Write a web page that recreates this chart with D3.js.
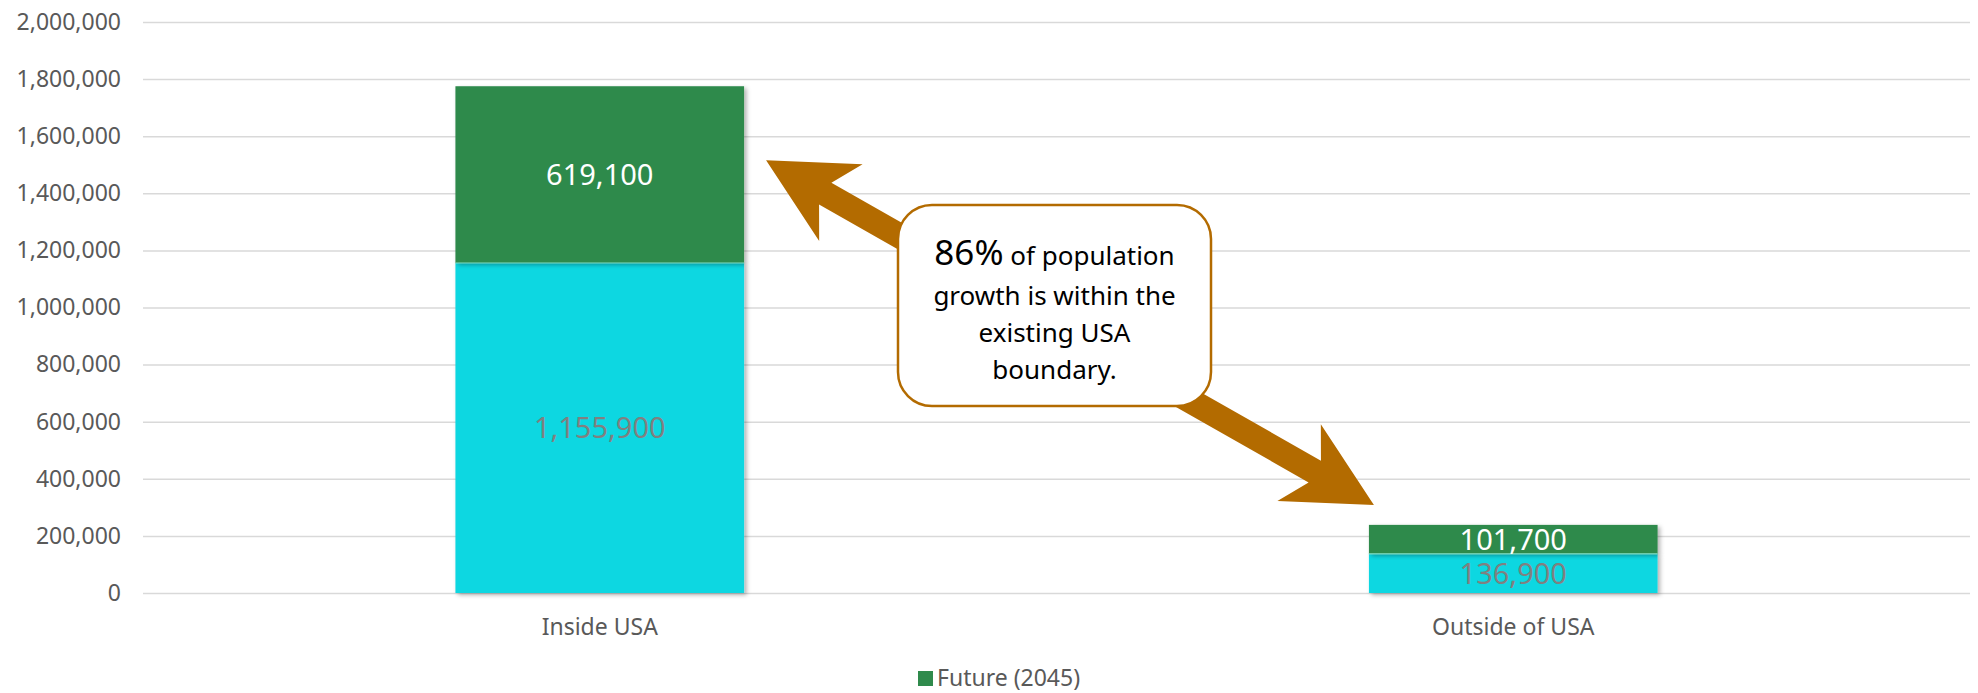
<!DOCTYPE html>
<html><head><meta charset="utf-8">
<script src="https://cdn.jsdelivr.net/npm/d3@7/dist/d3.min.js"></script>
<style>body{margin:0;background:#fff;overflow:hidden}</style>
</head><body>
<svg id="chart" width="1978" height="693"></svg>
<script>
// ---- data ----
const categories = ["Inside USA", "Outside of USA"];
const currentValues = [1155900, 136900];
const futureValues = [619100, 101700];
const seriesNames = ["Current", "Future (2045)"];
const seriesColors = ["#10d7e1", "#2f8a4c"];
const labelColors = ["#808080", "#ffffff"];
const yTickValues = [0, 200000, 400000, 600000, 800000, 1000000, 1200000, 1400000, 1600000, 1800000, 2000000];
const legendItems = ["Future (2045)"];
const calloutBig = "86%";
const calloutLines = [" of population", "growth is within the", "existing USA", "boundary."];
// arrow anchors in data space: [category, value]
const arrowTipA = ["Inside USA", 1516000];
const arrowTipB = ["Outside of USA", 308000];

// ---- layout ----
const mLeft = 143, mRight = 1970, mTop = 22, mBottom = 593;
const svg = d3.select("#chart");
const defs = svg.append("defs");
const flt = defs.append("filter").attr("id","sh").attr("x","-10%").attr("y","-10%").attr("width","130%").attr("height","130%");
flt.append("feDropShadow").attr("dx",2.5).attr("dy",2).attr("stdDeviation",2).attr("flood-color","#000").attr("flood-opacity",0.3);

const x = d3.scaleBand().domain(categories).range([mLeft, mRight]).paddingInner(0.684).paddingOuter(0.342);
const y = d3.scaleLinear().domain([0, 2000000]).range([mBottom, mTop]);
const fmt = d3.format(",");
const font = "'Noto Sans', sans-serif";

// gridlines + y axis
const yAxis = d3.axisLeft(y).tickValues(yTickValues).tickFormat(fmt).tickSize(-(mRight-mLeft)).tickPadding(22);
const gy = svg.append("g").attr("transform", `translate(${mLeft},0)`).call(yAxis);
gy.select(".domain").remove();
gy.selectAll(".tick line").attr("stroke", "#d9d9d9").attr("stroke-width", 1.5);
gy.selectAll(".tick text").attr("fill", "#595959").style("font-family", font).style("font-size", "23px");

// x axis labels
const xAxis = d3.axisBottom(x).tickSize(0).tickPadding(26);
const gx = svg.append("g").attr("transform", `translate(0,${mBottom})`).call(xAxis);
gx.select(".domain").remove();
gx.selectAll(".tick text").attr("fill", "#595959").style("font-family", font).style("font-size", "23px");

// stacked data
const rows = categories.map((c,i)=>({cat:c, current:currentValues[i], future:futureValues[i]}));
const stack = d3.stack().keys(["current","future"])(rows);

const gBars = svg.append("g");
stack.forEach((layer, li) => {
  gBars.append("g").selectAll("rect").data(layer).join("rect")
    .attr("x", d => x(d.data.cat))
    .attr("width", x.bandwidth())
    .attr("y", d => y(d[1]))
    .attr("height", d => y(d[0]) - y(d[1]))
    .attr("fill", seriesColors[li])
    .attr("filter", "url(#sh)");
});
gBars.append("g").selectAll("line").data(stack[0]).join("line")
  .attr("x1", d => x(d.data.cat)).attr("x2", d => x(d.data.cat)+x.bandwidth())
  .attr("y1", d => y(d[1])).attr("y2", d => y(d[1]))
  .attr("stroke", "#7fe0c8").attr("stroke-width", 1.2);

// data labels
stack.forEach((layer, li) => {
  svg.append("g").selectAll("text").data(layer).join("text")
    .attr("x", d => x(d.data.cat) + x.bandwidth()/2)
    .attr("y", d => (y(d[0]) + y(d[1]))/2)
    .attr("dy", "0.36em")
    .attr("text-anchor", "middle")
    .attr("fill", labelColors[li])
    .style("font-family", font).style("font-size", "29px")
    .text(d => fmt(d[1]-d[0]));
});

// ---- arrows ----
const P1 = [x(arrowTipA[0]) + x.bandwidth() + 22, y(arrowTipA[1])];
const P2 = [x(arrowTipB[0]) + 5, y(arrowTipB[1])];
const ddx = P2[0]-P1[0], ddy = P2[1]-P1[1], len = Math.hypot(ddx,ddy);
const ux = ddx/len, uy = ddy/len, vx = -uy, vy = ux;
const headL = 86, headW = 44, notchL = 68, shaftW = 12.5;
function pt(base, dir, along, side){ return [base[0] + dir*along*ux + side*vx, base[1] + dir*along*uy + side*vy]; }
const poly = [
  P1,
  pt(P1, 1, headL, headW), pt(P1, 1, notchL, shaftW),
  pt(P2, -1, notchL, shaftW), pt(P2, -1, headL, headW),
  P2,
  pt(P2, -1, headL, -headW), pt(P2, -1, notchL, -shaftW),
  pt(P1, 1, notchL, -shaftW), pt(P1, 1, headL, -headW)
];
svg.append("path").attr("d", d3.line()(poly) + "Z").attr("fill", "#b36b00");

// ---- callout box ----
const bx = 898, by = 205, bw = 313, bh = 201;
svg.append("rect").attr("x", bx).attr("y", by).attr("width", bw).attr("height", bh)
  .attr("rx", 34).attr("ry", 34).attr("fill", "#fff").attr("stroke", "#b36b00").attr("stroke-width", 2.5);
const cx = bx + bw/2;
const t = svg.append("text").attr("text-anchor","middle").attr("fill","#000").style("font-family", font).style("font-size","26px");
const l1 = t.append("tspan").attr("x", cx).attr("y", 265);
l1.append("tspan").style("font-size","35px").text(calloutBig);
l1.append("tspan").text(calloutLines[0]);
const baselines = [305, 342, 379];
calloutLines.slice(1).forEach((s,i)=>{
  t.append("tspan").attr("x", cx).attr("y", baselines[i]).text(s);
});

// ---- legend ----
const lg = svg.append("g");
const lx = 918;
lg.append("rect").attr("x", lx).attr("y", 671).attr("width", 15).attr("height", 15).attr("fill", seriesColors[1]);
lg.append("text").attr("x", lx + 19).attr("y", 678).attr("dy","0.35em").attr("fill","#595959")
  .style("font-family", font).style("font-size","23px").text(legendItems[0]);
</script>
</body></html>
